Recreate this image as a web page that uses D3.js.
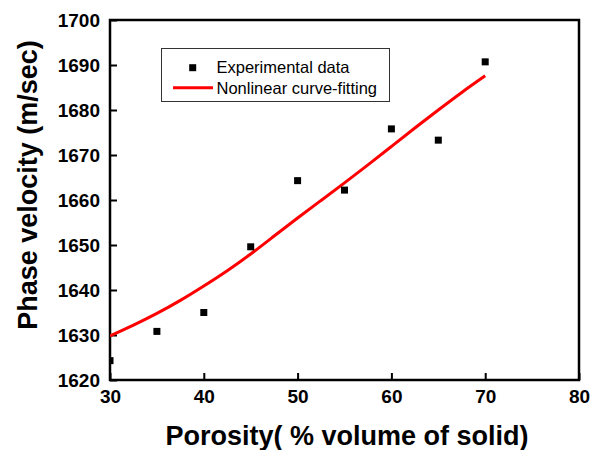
<!DOCTYPE html>
<html>
<head>
<meta charset="utf-8">
<script src="https://cdn.jsdelivr.net/npm/d3@7"></script>
<style>
  body { margin: 0; background: #fff; }
  text { font-family: Arial, "Liberation Sans", sans-serif; }
</style>
</head>
<body>
<svg id="chart" width="592" height="450"></svg>
<script>
// measured points
var porosity = [30, 35, 40, 45, 50, 55, 60, 65, 70];
var velocity = [1624.3, 1630.8, 1635.0, 1649.6, 1664.3, 1662.2, 1675.8, 1673.3, 1690.7];

// fitted curve
var fitX = [30, 32.5, 35, 37.5, 40, 42.5, 45, 47.5, 50, 52.5, 55, 57.5, 60, 62.5, 65, 67.5, 70];
var fitY = [1629.8, 1632.2, 1634.8, 1637.7, 1640.9, 1644.3, 1648.0, 1652.0, 1656.0, 1659.9, 1663.8, 1667.8, 1671.9, 1676.0, 1680.0, 1683.9, 1687.6];

var xTicks = [30, 40, 50, 60, 70, 80];
var yTicks = [1620, 1630, 1640, 1650, 1660, 1670, 1680, 1690, 1700];

// plot box (don't call these top/left: window.top is read-only)
var plotL = 110, plotR = 579, plotT = 20, plotB = 380;

var svg = d3.select("#chart");

var x = d3.scaleLinear().domain([30, 80]).range([plotL, plotR]);
var y = d3.scaleLinear().domain([1620, 1700]).range([plotB, plotT]);

svg.append("defs").append("clipPath").attr("id", "plotclip")
  .append("rect")
    .attr("x", plotL).attr("y", plotT)
    .attr("width", plotR - plotL).attr("height", plotB - plotT);

// axes with inward ticks
var xAxis = svg.append("g")
    .attr("transform", "translate(0," + plotB + ")")
    .call(d3.axisBottom(x).tickValues(xTicks).tickFormat(d3.format("d"))
      .tickSize(-7).tickPadding(10).tickSizeOuter(0));
var yAxis = svg.append("g")
    .attr("transform", "translate(" + plotL + ",0)")
    .call(d3.axisLeft(y).tickValues(yTicks).tickFormat(d3.format("d"))
      .tickSize(-7).tickPadding(10).tickSizeOuter(0));

[xAxis, yAxis].forEach(function(a) {
  a.select(".domain").remove();
  a.selectAll(".tick line").attr("stroke", "#000").attr("stroke-width", 2);
  a.selectAll(".tick text")
    .attr("fill", "#000")
    .style("font-size", "19px")
    .style("font-weight", "bold");
});
xAxis.selectAll(".tick text").attr("dy", "0.71em");
yAxis.selectAll(".tick text").attr("dy", "0.36em");

// frame
svg.append("rect")
  .attr("x", plotL).attr("y", plotT)
  .attr("width", plotR - plotL).attr("height", plotB - plotT)
  .attr("fill", "none")
  .attr("stroke", "#000")
  .attr("stroke-width", 2.5);

var plot = svg.append("g").attr("clip-path", "url(#plotclip)");

var line = d3.line()
  .x(function(d, i) { return x(fitX[i]); })
  .y(function(d) { return y(d); })
  .curve(d3.curveNatural);

plot.append("path")
  .datum(fitY)
  .attr("d", line)
  .attr("fill", "none")
  .attr("stroke", "#ff0000")
  .attr("stroke-width", 3);

var sq = 7;
plot.selectAll("rect.pt")
  .data(velocity)
  .enter()
  .append("rect")
    .attr("class", "pt")
    .attr("x", function(d, i) { return x(porosity[i]) - sq / 2; })
    .attr("y", function(d) { return y(d) - sq / 2; })
    .attr("width", sq)
    .attr("height", sq)
    .attr("fill", "#000");

// legend
var lg = svg.append("g");
lg.append("rect")
  .attr("x", 161.5).attr("y", 48.5)
  .attr("width", 228).attr("height", 53)
  .attr("fill", "#fff")
  .attr("stroke", "#333")
  .attr("stroke-width", 1);
lg.append("rect")
  .attr("x", 192.7 - sq / 2).attr("y", 67.7 - sq / 2)
  .attr("width", sq).attr("height", sq)
  .attr("fill", "#000");
lg.append("line")
  .attr("x1", 173).attr("x2", 213)
  .attr("y1", 87.7).attr("y2", 87.7)
  .attr("stroke", "#ff0000")
  .attr("stroke-width", 3);
lg.append("text").attr("x", 216.5).attr("y", 72.5)
  .style("font-size", "16.5px").text("Experimental data");
lg.append("text").attr("x", 216.5).attr("y", 93.5)
  .style("font-size", "16.5px").text("Nonlinear curve-fitting");

// axis titles
svg.append("text")
  .attr("x", 347).attr("y", 445)
  .attr("text-anchor", "middle")
  .style("font-size", "27px")
  .style("font-weight", "bold")
  .text("Porosity( % volume of solid)");

svg.append("text")
  .attr("transform", "translate(36.5,185) rotate(-90)")
  .attr("text-anchor", "middle")
  .style("font-size", "27px")
  .style("font-weight", "bold")
  .text("Phase velocity (m/sec)");
</script>
</body>
</html>
